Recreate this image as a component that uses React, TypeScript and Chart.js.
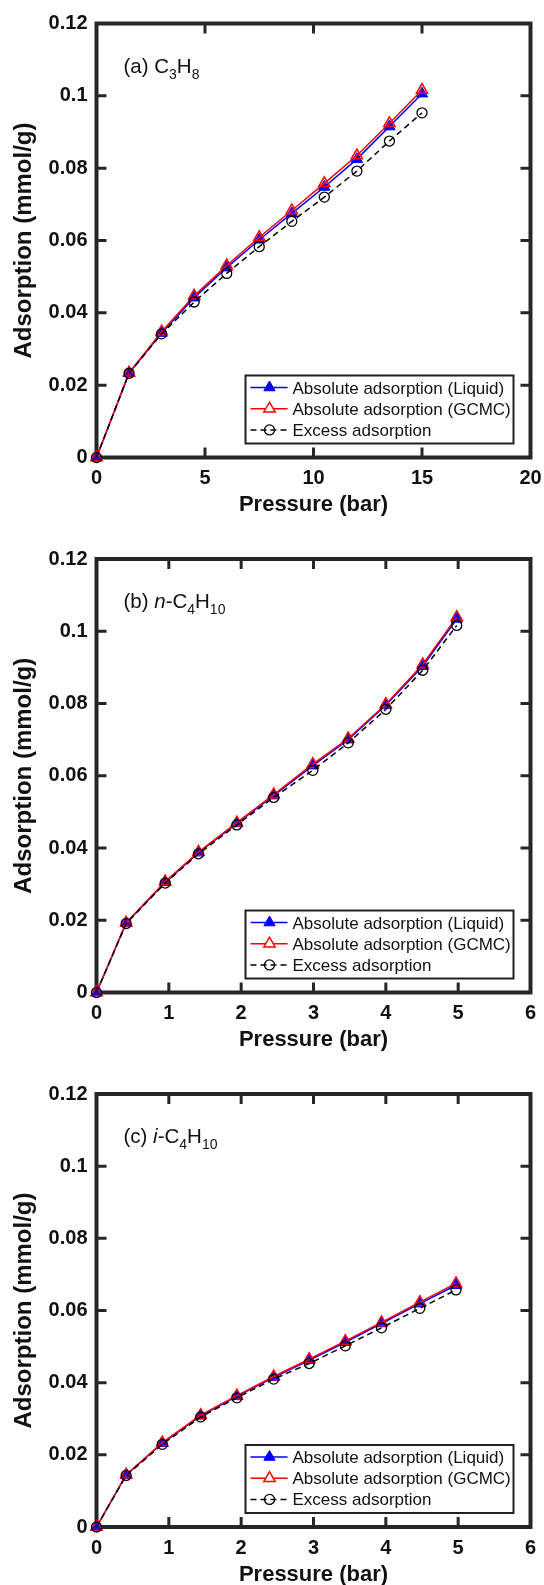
import React, { useEffect, useRef } from 'react';
import { Chart, registerables } from 'chart.js';

Chart.register(...registerables);

// ---------------- DATA ----------------
const seriesLabels = [
  'Absolute adsorption (Liquid)',
  'Absolute adsorption (GCMC)',
  'Excess adsorption',
];

const xTitle = 'Pressure (bar)';
const yTitle = 'Adsorption (mmol/g)';

const yTicks = [0, 0.02, 0.04, 0.06, 0.08, 0.1, 0.12];
const yTickLabels = ['0', '0.02', '0.04', '0.06', '0.08', '0.1', '0.12'];

const xTicksA = [0, 5, 10, 15, 20];
const xTickLabelsA = ['0', '5', '10', '15', '20'];
const xTicksBC = [0, 1, 2, 3, 4, 5, 6];
const xTickLabelsBC = ['0', '1', '2', '3', '4', '5', '6'];

// (a) C3H8
const pressureA = [0, 1.5, 3, 4.5, 6, 7.5, 9, 10.5, 12, 13.5, 15];
const liquidA = [0, 0.0233, 0.0344, 0.0442, 0.0525, 0.0602, 0.0675, 0.0748, 0.0825, 0.0915, 0.1006];
const gcmcA = [0, 0.0234, 0.0348, 0.0447, 0.0531, 0.0609, 0.0683, 0.0758, 0.0835, 0.0924, 0.1016];
const excessA = [0, 0.0233, 0.0342, 0.043, 0.0509, 0.0583, 0.0653, 0.072, 0.0792, 0.0875, 0.0953];

// (b) n-C4H10
const pressureB = [0, 0.41, 0.95, 1.41, 1.94, 2.45, 2.99, 3.48, 4.0, 4.51, 4.98];
const liquidB = [0, 0.0192, 0.0305, 0.0387, 0.0468, 0.0545, 0.0628, 0.07, 0.0795, 0.0903, 0.1034];
const gcmcB = [0, 0.0193, 0.0307, 0.0389, 0.047, 0.0548, 0.0632, 0.0703, 0.0798, 0.0908, 0.1039];
const excessB = [0, 0.0191, 0.0303, 0.0384, 0.0464, 0.054, 0.0615, 0.0691, 0.0784, 0.0892, 0.1016];

// (c) i-C4H10
const pressureC = [0, 0.41, 0.91, 1.44, 1.94, 2.45, 2.94, 3.44, 3.94, 4.47, 4.97];
const liquidC = [0, 0.0144, 0.0232, 0.0308, 0.0362, 0.0415, 0.0462, 0.0512, 0.0564, 0.0619, 0.067];
const gcmcC = [0, 0.0145, 0.0234, 0.031, 0.0364, 0.0417, 0.0465, 0.0515, 0.0567, 0.0623, 0.0675];
const excessC = [0, 0.0143, 0.0229, 0.0305, 0.0358, 0.041, 0.0453, 0.0502, 0.0552, 0.0606, 0.0657];

const noteA = [{ t: '(a) C' }, { t: '3', sub: true }, { t: 'H' }, { t: '8', sub: true }];
const noteB = [{ t: '(b) ' }, { t: 'n', it: true }, { t: '-C' }, { t: '4', sub: true }, { t: 'H' }, { t: '10', sub: true }];
const noteC = [{ t: '(c) ' }, { t: 'i', it: true }, { t: '-C' }, { t: '4', sub: true }, { t: 'H' }, { t: '10', sub: true }];

// ---------------- STYLE ----------------
const FONT = '"Liberation Sans", Arial, Helvetica, sans-serif';
const AXIS_COLOR = '#262626';
const TEXT_COLOR = '#111';

type Part = { t: string; sub?: boolean; it?: boolean };

const framePlugin = {
  id: 'frame',
  beforeDatasetsDraw(chart: any) {
    const { ctx, chartArea: a, scales } = chart;
    ctx.save();
    ctx.strokeStyle = AXIS_COLOR;
    ctx.lineWidth = 3;
    ctx.lineCap = 'butt';
    const L = 10;
    ctx.beginPath();
    scales.x.ticks.forEach((t: any) => {
      const px = scales.x.getPixelForValue(t.value);
      ctx.moveTo(px, a.bottom);
      ctx.lineTo(px, a.bottom - L);
      ctx.moveTo(px, a.top);
      ctx.lineTo(px, a.top + L);
    });
    scales.y.ticks.forEach((t: any) => {
      const py = scales.y.getPixelForValue(t.value);
      ctx.moveTo(a.left, py);
      ctx.lineTo(a.left + L, py);
      ctx.moveTo(a.right, py);
      ctx.lineTo(a.right - L, py);
    });
    ctx.stroke();
    ctx.lineWidth = 4;
    ctx.strokeRect(a.left, a.top, a.right - a.left, a.bottom - a.top);
    ctx.restore();
  },
};

function drawTriangle(ctx: CanvasRenderingContext2D, cx: number, cy: number, r: number) {
  const c = Math.cos(Math.PI / 6) * r;
  ctx.beginPath();
  ctx.moveTo(cx, cy - r);
  ctx.lineTo(cx + c, cy + r / 2);
  ctx.lineTo(cx - c, cy + r / 2);
  ctx.closePath();
}

const overlayPlugin = {
  id: 'overlay',
  afterDraw(chart: any) {
    const { ctx, chartArea: a } = chart;
    const note: Part[] = chart.options.plugins.overlay.note;
    ctx.save();
    // annotation
    let x = a.left + 27;
    const base = a.top + 49;
    ctx.fillStyle = TEXT_COLOR;
    ctx.textBaseline = 'alphabetic';
    ctx.textAlign = 'left';
    note.forEach((p) => {
      const size = p.sub ? 14 : 20.5;
      ctx.font = `${p.it ? 'italic ' : ''}${size}px ${FONT}`;
      ctx.fillText(p.t, x, p.sub ? base + 6 : base);
      x += ctx.measureText(p.t).width;
    });

    // legend
    const w = 268;
    const h = 68;
    const x0 = a.right - 17 - w;
    const y0 = a.bottom - 14 - h;
    ctx.fillStyle = '#fff';
    ctx.fillRect(x0, y0, w, h);
    ctx.strokeStyle = '#222';
    ctx.lineWidth = 2;
    ctx.strokeRect(x0, y0, w, h);
    chart.data.datasets.forEach((ds: any, i: number) => {
      const cy = y0 + 12 + i * 21.2;
      ctx.beginPath();
      ctx.strokeStyle = ds.borderColor;
      ctx.lineWidth = ds.borderWidth;
      ctx.setLineDash(ds.borderDash || []);
      ctx.moveTo(x0 + 5, cy);
      ctx.lineTo(x0 + 42, cy);
      ctx.stroke();
      ctx.setLineDash([]);
      const mx = x0 + 24;
      ctx.lineWidth = ds.pointBorderWidth;
      ctx.strokeStyle = ds.pointBorderColor;
      if (ds.pointStyle === 'triangle') {
        drawTriangle(ctx, mx, cy, ds.pointRadius);
        if (ds.legendFill) {
          ctx.fillStyle = ds.legendFill;
          ctx.fill();
        }
        ctx.stroke();
      } else {
        ctx.beginPath();
        ctx.arc(mx, cy, ds.pointRadius, 0, Math.PI * 2);
        ctx.stroke();
      }
      ctx.fillStyle = TEXT_COLOR;
      ctx.font = `17px ${FONT}`;
      ctx.fillText(ds.label, x0 + 47, cy + 6);
    });
    ctx.restore();
  },
};

type PanelProps = {
  top: number;
  padTop: number;
  xHeight: number;
  xs: number[];
  liquid: number[];
  gcmc: number[];
  excess: number[];
  xMax: number;
  xTicks: number[];
  xTickLabels: string[];
  note: Part[];
};

function Panel(props: PanelProps) {
  const ref = useRef<HTMLCanvasElement | null>(null);
  useEffect(() => {
    const canvas = ref.current;
    if (!canvas) return;
    const { xs, liquid, gcmc, excess, xMax, xTicks, xTickLabels, note, padTop, xHeight } = props;
    const pts = (ys: number[]) => xs.map((x, i) => ({ x, y: ys[i] }));
    const tickFont = { family: FONT, size: 20, weight: 'bold' as const };
    const chart = new Chart(canvas, {
      type: 'line',
      data: {
        datasets: [
          {
            label: seriesLabels[0],
            data: pts(liquid),
            borderColor: '#0000ff',
            backgroundColor: '#0000ff',
            borderWidth: 1.5,
            pointStyle: 'triangle',
            pointRadius: 6.5,
            pointBorderWidth: 1,
            pointBackgroundColor: '#0000ff',
            pointBorderColor: '#0000ff',
            legendFill: '#0000ff',
            order: 3,
            clip: false,
            tension: 0,
          } as any,
          {
            label: seriesLabels[1],
            data: pts(gcmc),
            borderColor: '#ff0000',
            backgroundColor: '#ff0000',
            borderWidth: 1.5,
            pointStyle: 'triangle',
            pointRadius: 6.5,
            pointBorderWidth: 1.5,
            pointBackgroundColor: 'rgba(0,0,0,0)',
            pointBorderColor: '#ff0000',
            legendFill: '#ffffff',
            order: 2,
            clip: false,
            tension: 0,
          } as any,
          {
            label: seriesLabels[2],
            data: pts(excess),
            borderColor: '#000000',
            backgroundColor: '#000000',
            borderWidth: 1.5,
            borderDash: [6, 4],
            pointStyle: 'circle',
            pointRadius: 5,
            pointBorderWidth: 1.3,
            pointBackgroundColor: 'rgba(0,0,0,0)',
            pointBorderColor: '#000000',
            order: 1,
            clip: false,
            tension: 0,
          } as any,
        ],
      },
      options: {
        animation: false,
        responsive: false,
        events: [],
        layout: { padding: { top: padTop, right: 13.5, left: 0, bottom: 0 } },
        plugins: {
          legend: { display: false },
          tooltip: { enabled: false },
          overlay: { note },
        } as any,
        scales: {
          x: {
            type: 'linear',
            min: 0,
            max: xMax,
            afterBuildTicks: (s: any) => {
              s.ticks = xTicks.map((v) => ({ value: v }));
            },
            afterFit: (s: any) => {
              s.height = xHeight;
              s.paddingLeft = 0;
              s.paddingRight = 0;
            },
            ticks: {
              callback: (_v: any, i: number) => xTickLabels[i],
              font: tickFont,
              color: TEXT_COLOR,
              padding: 9,
              maxRotation: 0,
              autoSkip: false,
            },
            grid: { display: false, drawTicks: false },
            border: { display: false },
            title: {
              display: true,
              text: xTitle,
              color: TEXT_COLOR,
              font: { family: FONT, size: 22, weight: 'bold' },
              padding: { top: 0, bottom: 17 },
            },
          },
          y: {
            type: 'linear',
            min: 0,
            max: 0.12,
            afterBuildTicks: (s: any) => {
              s.ticks = yTicks.map((v) => ({ value: v }));
            },
            afterFit: (s: any) => {
              s.width = 96.5;
              s.paddingTop = 0;
              s.paddingBottom = 0;
            },
            ticks: {
              callback: (_v: any, i: number) => yTickLabels[i],
              font: tickFont,
              color: TEXT_COLOR,
              padding: 9,
              autoSkip: false,
            },
            grid: { display: false, drawTicks: false },
            border: { display: false },
            title: {
              display: true,
              text: yTitle,
              color: TEXT_COLOR,
              font: { family: FONT, size: 24, weight: 'bold' },
              padding: { top: 9.6, bottom: 0 },
            },
          },
        },
      } as any,
      plugins: [framePlugin, overlayPlugin],
    });
    return () => chart.destroy();
  }, []);
  return (
    <canvas
      ref={ref}
      width={544}
      height={535}
      style={{ position: 'absolute', left: 0, top: props.top, width: 544, height: 535, display: 'block' }}
    />
  );
}

export default function App() {
  return (
    <div
      style={{
        position: 'absolute',
        left: 0,
        top: 0,
        width: 544,
        height: 1585,
        overflow: 'hidden',
        background: '#fff',
      }}
    >
      <Panel top={0} padTop={23.5} xHeight={77.5} xs={pressureA} liquid={liquidA} gcmc={gcmcA} excess={excessA}
        xMax={20} xTicks={xTicksA} xTickLabels={xTickLabelsA} note={noteA} />
      <Panel top={535} padTop={24} xHeight={77.5} xs={pressureB} liquid={liquidB} gcmc={gcmcB} excess={excessB}
        xMax={6} xTicks={xTicksBC} xTickLabels={xTickLabelsBC} note={noteB} />
      <Panel top={1070} padTop={24} xHeight={78} xs={pressureC} liquid={liquidC} gcmc={gcmcC} excess={excessC}
        xMax={6} xTicks={xTicksBC} xTickLabels={xTickLabelsBC} note={noteC} />
    </div>
  );
}
